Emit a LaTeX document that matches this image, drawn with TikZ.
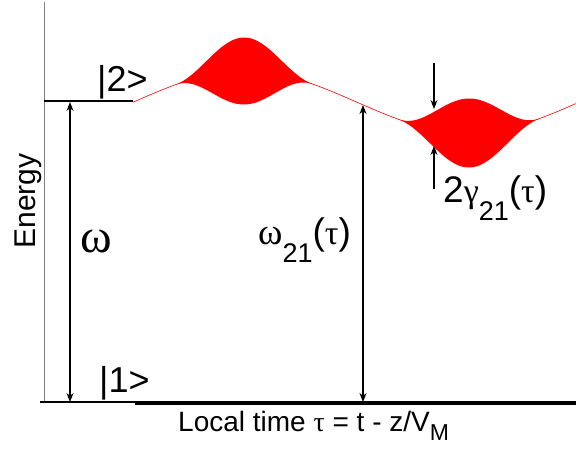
\documentclass[tikz,border=0pt]{standalone}
\usepackage{fontspec}
\setmainfont{Liberation Sans}
\newfontfamily\greekfont{Liberation Serif}
\usetikzlibrary{arrows.meta}

\newcommand{\gk}[2]{{\fontsize{#1}{#1}\greekfont #2}}
\newcommand{\lowered}[3]{\raisebox{-#1}{\fontsize{#2}{#2}\selectfont #3}}

\tikzset{
  declare function={
    centre(\x)=102-31*cos((\x-245)*0.80717);
    bumpa(\x)=16.75*(1-cos((\x-175)*2.6087));
    bumpb(\x)=17.25*(1-cos((\x-398)*2.5352));
  },
  level/.style={line width=2.5pt},
  trans/.style={line width=1.2pt, {Stealth[length=9pt,width=7pt]}-{Stealth[length=9pt,width=7pt]}},
  width arrow/.style={line width=1.2pt, -{Stealth[length=9pt,width=7pt]}},
  state/.style={inner sep=0pt, anchor=base west, font=\fontsize{36}{36}\selectfont},
  freq/.style={inner sep=0pt, anchor=base west, font=\fontsize{37}{37}\selectfont},
}

\begin{document}
\begin{tikzpicture}[x=1pt,y=-1pt]
  \useasboundingbox (0,0) rectangle (576,456);

  % axes
  \draw[gray, line width=1pt] (44,2) -- (44,403);
  \draw[line width=3.5pt] (135,403) -- (576,403);
  \node[rotate=90, inner sep=0pt, anchor=base, font=\fontsize{30}{30}\selectfont] (energy) at (35,201) {Energy};
  \node[inner sep=0pt, anchor=base west, font=\fontsize{28}{28}\selectfont] (time) at (178,431)
    {Local time \gk{28}{τ} = t - z/V\lowered{9pt}{23}{M}};

  % levels
  \draw[level] (44,101) -- (133,101);
  \draw[level] (40,402) -- (135,402);
  \node[state] (up) at (97,91) {|2>};
  \node[state] (down) at (99,392) {|1>};

  % transition frequency and its broadening
  \draw[red, line width=0.6pt] plot[domain=133:576, samples=120] (\x,{centre(\x)});
  \fill[red] plot[domain=175:313, samples=70] (\x,{centre(\x)-bumpa(\x)})
    -- plot[domain=313:175, samples=70] (\x,{centre(\x)+bumpa(\x)}) -- cycle;
  \fill[red] plot[domain=398:540, samples=70] (\x,{centre(\x)-bumpb(\x)})
    -- plot[domain=540:398, samples=70] (\x,{centre(\x)+bumpb(\x)}) -- cycle;

  % arrows
  \coordinate (w top) at (70,102);
  \coordinate (w bot) at (70,402);
  \coordinate (wt top) at (363,105);
  \coordinate (wt bot) at (363,402);
  \coordinate (g from) at (434,63);
  \coordinate (g top) at (434,109);
  \coordinate (g to) at (434,189);
  \coordinate (g bot) at (434,146);
  \draw[trans] (w top) -- (w bot);
  \draw[trans] (wt top) -- (wt bot);
  \draw[width arrow] (g from) -- (g top);
  \draw[width arrow] (g to) -- (g bot);

  \node[inner sep=0pt, anchor=base west] (omega) at (80,252) {\gk{48}{ω}};
  \node[freq] (omega21) at (258,244)
    {\gk{37}{ω}\lowered{18pt}{27}{21}(\gk{34}{τ})};
  \node[freq] (gamma21) at (443,202)
    {2\gk{34}{γ}\lowered{18pt}{27}{21}(\gk{34}{τ})};
\end{tikzpicture}
\end{document}
